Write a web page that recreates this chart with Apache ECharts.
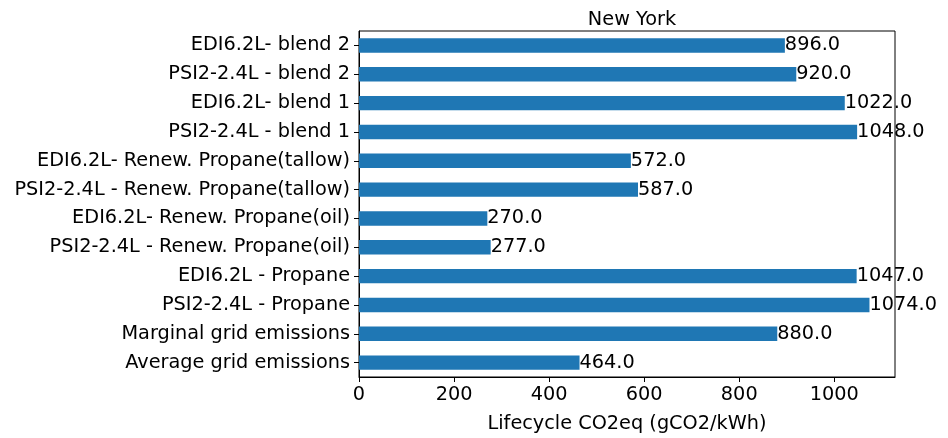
<!DOCTYPE html>
<html>
<head>
<meta charset="utf-8">
<script src="https://cdn.jsdelivr.net/npm/echarts@6/dist/echarts.min.js"></script>
<style>html,body{margin:0;padding:0;background:#fff;}#c{width:948px;height:438px;}</style>
</head>
<body>
<div id="c"></div>
<script>
// categories listed bottom to top
const categories = [
  "Average grid emissions",
  "Marginal grid emissions",
  "PSI2-2.4L - Propane",
  "EDI6.2L - Propane",
  "PSI2-2.4L - Renew. Propane(oil)",
  "EDI6.2L- Renew. Propane(oil)",
  "PSI2-2.4L - Renew. Propane(tallow)",
  "EDI6.2L- Renew. Propane(tallow)",
  "PSI2-2.4L - blend 1",
  "EDI6.2L- blend 1",
  "PSI2-2.4L - blend 2",
  "EDI6.2L- blend 2"
];
const values = [464, 880, 1074, 1047, 277, 270, 587, 572, 1048, 1022, 920, 896];
const xTicks = [0, 200, 400, 600, 800, 1000];
const titleText = "New York";
const xLabel = "Lifecycle CO2eq (gCO2/kWh)";

const FONT = "DejaVu Sans";
const FS = 19.3;
const chart = echarts.init(document.getElementById('c'), null, {renderer: 'canvas'});
const xMax = Math.max(...values) * 1.05;
chart.setOption({
  animation: false,
  backgroundColor: '#fff',
  textStyle: {fontFamily: FONT},
  title: {
    text: titleText, left: 627, top: 5, textAlign: 'center',
    textStyle: {fontFamily: FONT, fontSize: FS, fontWeight: 'normal', color: '#000'}
  },
  grid: {left: 359, right: 53, top: 31, bottom: 57, show: true, borderColor: '#000', borderWidth: 1, containLabel: false},
  xAxis: {
    type: 'value', min: 0, max: xMax, interval: 200,
    name: xLabel, nameLocation: 'middle', nameGap: 37,
    nameTextStyle: {fontFamily: FONT, fontSize: FS, color: '#000'},
    axisLine: {show: true, lineStyle: {color: '#000', width: 1}},
    axisTick: {show: true, length: 5, lineStyle: {color: '#000'}},
    axisLabel: {fontFamily: FONT, fontSize: FS, color: '#000', margin: 8, showMaxLabel: false,
      formatter: v => xTicks.includes(v) ? String(v) : ''},
    splitLine: {show: false}
  },
  yAxis: {
    type: 'category', data: categories,
    axisLine: {show: true, lineStyle: {color: '#000', width: 1}},
    axisTick: {show: true, length: 5, alignWithLabel: true, lineStyle: {color: '#000'}},
    axisLabel: {fontFamily: FONT, fontSize: FS, color: '#000', margin: 9},
    splitLine: {show: false}
  },
  series: [{
    type: 'bar', data: values, barWidth: '50%',
    itemStyle: {color: '#1f77b4'},
    label: {show: true, position: 'right', distance: 0, fontFamily: FONT, fontSize: FS, color: '#000',
      formatter: p => p.value.toFixed(1)}
  }]
});
</script>
</body>
</html>
